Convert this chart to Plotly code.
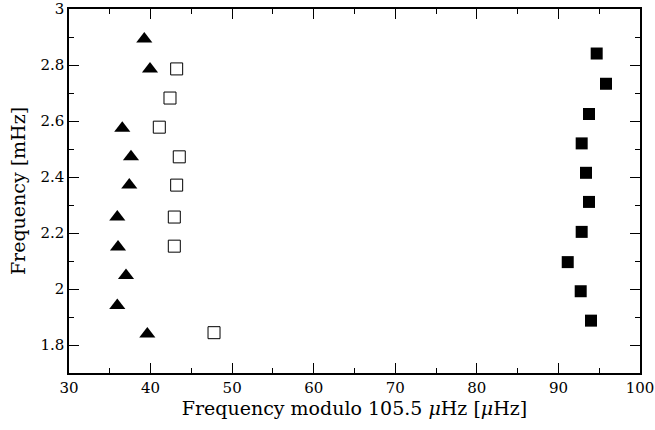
import plotly.graph_objects as go

# Filled triangles
tri_x = [39.23, 39.93, 36.53, 37.60, 37.39, 35.92, 36.01, 36.99, 35.92, 39.60]
tri_y = [2.893, 2.786, 2.574, 2.472, 2.371, 2.257, 2.150, 2.048, 1.941, 1.839]

# Open squares
osq_x = [43.20, 42.38, 41.07, 43.52, 43.20, 42.91, 42.91, 47.78]
osq_y = [2.786, 2.682, 2.578, 2.472, 2.371, 2.257, 2.153, 1.844]

# Filled squares
fsq_x = [94.69, 95.83, 93.75, 92.85, 93.38, 93.75, 92.85, 91.14, 92.73, 93.99]
fsq_y = [2.841, 2.733, 2.625, 2.520, 2.415, 2.311, 2.204, 2.096, 1.992, 1.887]

x_ticks = [30, 40, 50, 60, 70, 80, 90, 100]
y_ticks = [1.8, 2.0, 2.2, 2.4, 2.6, 2.8, 3.0]
y_tick_labels = ["1.8", "2", "2.2", "2.4", "2.6", "2.8", "3"]

FONT = "DejaVu Serif"

fig = go.Figure()
fig.add_trace(go.Scatter(x=tri_x, y=tri_y, mode="markers",
                         marker=dict(symbol="triangle-up", size=14, color="black",
                                     line=dict(width=0))))
fig.add_trace(go.Scatter(x=osq_x, y=osq_y, mode="markers",
                         marker=dict(symbol="square-open", size=12, color="black",
                                     line=dict(width=1))))
fig.add_trace(go.Scatter(x=fsq_x, y=fsq_y, mode="markers",
                         marker=dict(symbol="square", size=12, color="black",
                                     line=dict(width=0))))

axis_common = dict(showgrid=False, zeroline=False, showline=True, linecolor="black",
                   linewidth=1.5, mirror="allticks", ticks="inside", ticklen=10,
                   tickwidth=1, tickcolor="black", automargin=False,
                   tickfont=dict(family=FONT, size=15, color="black"))

fig.update_layout(
    width=655, height=430,
    margin=dict(l=69, r=15, t=9, b=57),
    paper_bgcolor="white", plot_bgcolor="white",
    showlegend=False,
    font=dict(family=FONT, size=15, color="black"),
    xaxis=dict(range=[30, 100], tickvals=x_ticks,
               title=dict(text="Frequency modulo 105.5 <i>μ</i>Hz [<i>μ</i>Hz]",
                          font=dict(family=FONT, size=19), standoff=4),
               **axis_common),
    yaxis=dict(range=[1.7, 3.0], tickvals=y_ticks, ticktext=y_tick_labels,
               title=dict(text="Frequency [mHz]", font=dict(family=FONT, size=19), standoff=10),
               **axis_common),
)
fig.update_xaxes(minor=dict(dtick=5, tick0=35, ticks="inside", ticklen=5,
                            tickwidth=1, tickcolor="black"))
fig.update_yaxes(minor=dict(dtick=0.1, tick0=1.7, ticks="inside", ticklen=5,
                            tickwidth=1, tickcolor="black"))

fig.write_html("out.html", config={"displayModeBar": False},
               post_script="document.body.style.margin='0';")
